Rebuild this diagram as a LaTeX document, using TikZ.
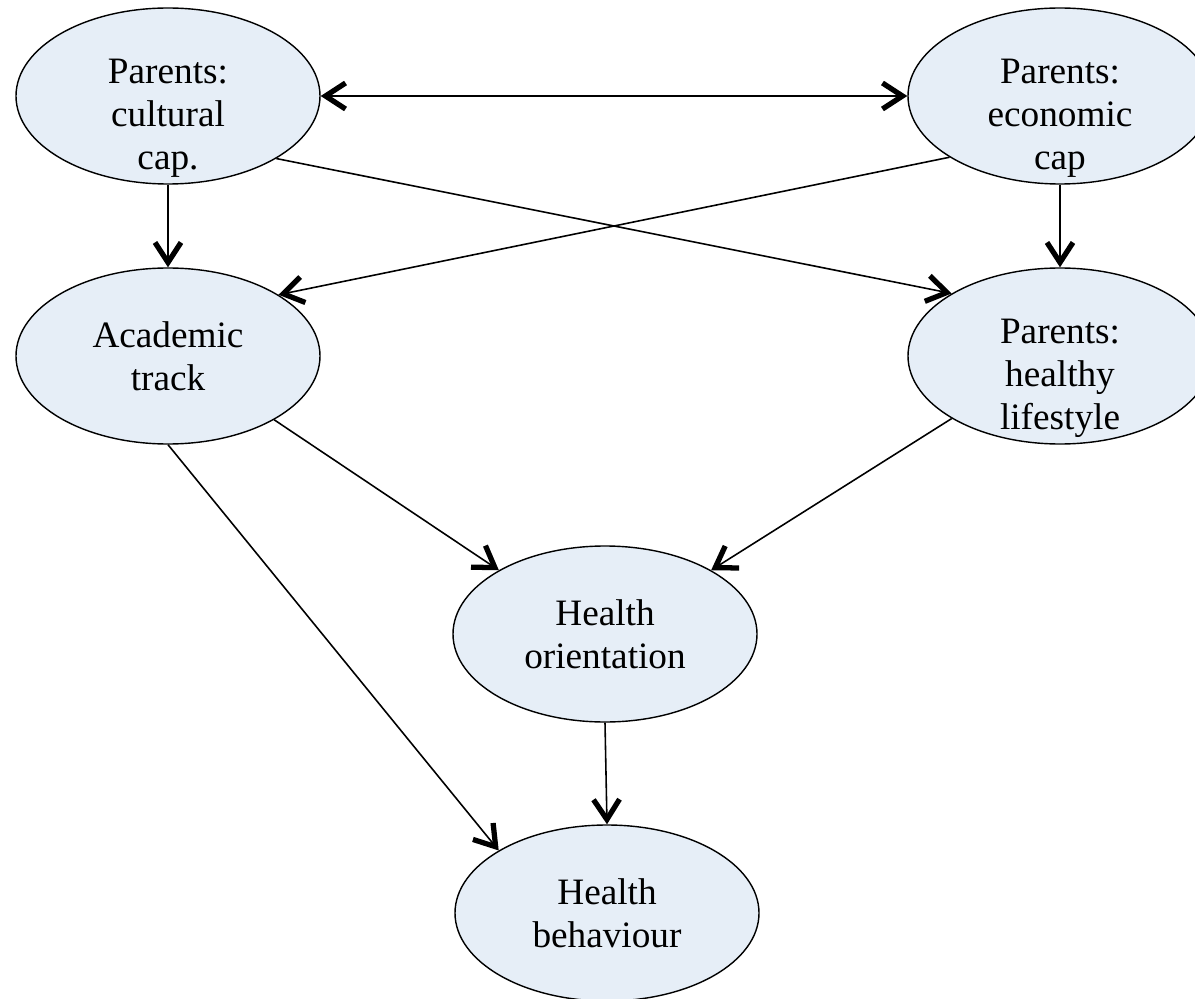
\documentclass[tikz,border=0pt]{standalone}
\usepackage{fontspec}
\setmainfont{Liberation Serif}
\usetikzlibrary{shapes.geometric,arrows.meta}
\definecolor{ovalfill}{RGB}{230,238,247}

\begin{document}
\begin{tikzpicture}[
        every node/.style={ellipse, draw=black, fill=ovalfill, line width=0.8pt, minimum width=6.08cm, minimum height=3.52cm, inner sep=0pt, align=center, font=\fontsize{21.2}{24.4}\selectfont},
        threeline/.style={text height=88pt, inner ysep=-15pt},
        barb/.tip={Straight Barb[length=0.4cm, width=0.52cm, line width'=3pt]},
        link/.style={-barb, line width=0.9pt},
        twoway/.style={barb-barb, line width=0.9pt}
    ]
    \clip (0,0) rectangle (23.9,-19.98);

    \node[threeline] (cult) at (3.36,-1.92) {Parents:\\cultural\\cap.};
    \node[threeline] (econ) at (21.2,-1.92) {Parents:\\economic\\cap};
    \node (acad) at (3.36,-7.12) {Academic\\track};
    \node[threeline] (life) at (21.2,-7.12) {Parents:\\healthy\\lifestyle};
    \node (orient) at (12.10,-12.68) {Health\\orientation};
    \node (behav) at (12.14,-18.26) {Health\\behaviour};

    \draw[twoway] (cult.east) -- (econ.west);
    \draw[link] (cult.south) -- (acad.north);
    \draw[link] (econ.south) -- (life.north);
    \draw[link] (econ.209) -- (acad.29);
    \draw[link] (cult.330) -- (life.150);
    \draw[link] (acad.329) -- (orient.149);
    \draw[link] (life.210) -- (orient.31);
    \draw[link] (acad.south) -- (behav.150);
    \draw[link] (orient.south) -- (behav.north);
\end{tikzpicture}
\end{document}
